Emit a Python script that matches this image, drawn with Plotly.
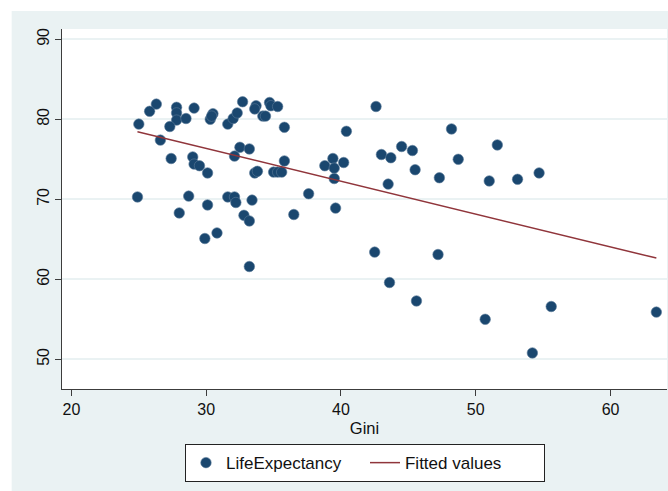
import numpy as np
import plotly.graph_objects as go

# Income inequality (Gini index) and life expectancy, one entry per country
gini = [
    26.3, 25.8, 25.0, 27.8, 27.8, 27.8, 28.5, 27.3, 29.1, 26.6,
    30.5, 30.3, 30.4, 31.6, 32.0, 32.3, 32.7, 33.7, 33.6, 34.2,
    34.4, 34.7, 34.8, 35.3, 35.8, 40.4, 32.5, 33.2, 32.1, 27.4,
    29.0, 29.1, 29.5, 30.1, 33.6, 33.8, 35.0, 35.3, 35.6, 35.8,
    38.8, 39.4, 39.5, 40.2, 39.5, 24.9, 28.7, 28.0, 30.1, 31.6,
    32.1, 32.2, 33.4, 37.6, 39.6, 36.5, 32.8, 33.2, 30.8, 29.9,
    33.2, 42.6, 48.2, 51.6, 44.5, 45.3, 43.0, 43.7, 48.7, 45.5,
    43.5, 47.3, 51.0, 53.1, 54.7, 42.5, 47.2, 43.6, 45.6, 50.7,
    55.6, 54.2, 63.4,
]
life_expectancy = [
    81.9, 81.0, 79.4, 81.5, 80.8, 79.9, 80.1, 79.1, 81.4, 77.4,
    80.7, 80.0, 80.4, 79.4, 80.1, 80.8, 82.2, 81.7, 81.3, 80.4,
    80.4, 82.1, 81.7, 81.6, 79.0, 78.5, 76.5, 76.3, 75.4, 75.1,
    75.3, 74.4, 74.2, 73.3, 73.3, 73.5, 73.4, 73.4, 73.4, 74.8,
    74.2, 75.1, 73.9, 74.6, 72.6, 70.3, 70.4, 68.3, 69.3, 70.3,
    70.3, 69.6, 69.9, 70.7, 68.9, 68.1, 68.0, 67.3, 65.8, 65.1,
    61.6, 81.6, 78.8, 76.8, 76.6, 76.1, 75.6, 75.2, 75.0, 73.7,
    71.9, 72.7, 72.3, 72.5, 73.3, 63.4, 63.1, 59.6, 57.3, 55.0,
    56.6, 50.8, 55.9,
]

x_ticks = [20, 30, 40, 50, 60]
y_ticks = [50, 60, 70, 80, 90]

# Ordinary least squares line over the observed Gini range
slope, intercept = np.polyfit(gini, life_expectancy, 1)
fit_x = np.array([min(gini), max(gini)])
fit_y = intercept + slope * fit_x

NAVY = "#1A476F"
MAROON = "#90353B"
REGION = "#EAF2F3"
AXIS = "#3C3C3C"
FONT = "Liberation Sans, Arial, Helvetica, sans-serif"

fig = go.Figure()
fig.add_trace(go.Scatter(
    x=gini, y=life_expectancy, mode="markers", name="LifeExpectancy",
    marker=dict(color=NAVY, size=10.5, line=dict(width=0.6, color="#5a7a98")),
))
fig.add_trace(go.Scatter(
    x=fit_x, y=fit_y, mode="lines", name="Fitted values",
    line=dict(color=MAROON, width=1.5),
))

# Light graph region around the white plot region; white strips at top/left edge
fig.add_shape(type="rect", xref="paper", yref="paper",
              x0=-0.2, x1=1.1, y0=1.05, y1=1.2,
              fillcolor="white", line_width=0, layer="below")
fig.add_shape(type="rect", xref="paper", yref="paper",
              x0=-0.2, x1=-0.0832, y0=-0.4, y1=1.2,
              fillcolor="white", line_width=0, layer="below")

fig.update_layout(
    width=668, height=491,
    margin=dict(l=62.3, r=1.3, t=29, b=102),
    paper_bgcolor=REGION,
    plot_bgcolor="white",
    font=dict(family=FONT, color="#111111", size=16),
    showlegend=True,
    legend=dict(
        orientation="h", x=0.5008, xanchor="center", y=-0.153, yanchor="top",
        bgcolor="white", bordercolor="#222222", borderwidth=1,
        font=dict(size=17, family=FONT, color="#111111"),
        entrywidth=134, entrywidthmode="pixels",
    ),
    xaxis=dict(
        range=[19.30, 64.19], tickvals=x_ticks, ticktext=[str(v) for v in x_ticks],
        showgrid=False, zeroline=False,
        showline=True, linecolor=AXIS, linewidth=1.2,
        ticks="outside", ticklen=6, tickcolor=AXIS, tickwidth=1.2,
        tickfont=dict(size=16),
        title=dict(text="Gini", font=dict(size=16.5), standoff=5),
    ),
    yaxis=dict(
        range=[46.29, 91.29], tickvals=y_ticks, ticktext=[str(v) for v in y_ticks],
        tickangle=-90,
        showgrid=True, gridcolor=REGION, gridwidth=1.6, zeroline=False,
        showline=True, linecolor=AXIS, linewidth=1.2,
        ticks="outside", ticklen=6, tickcolor=AXIS, tickwidth=1.2,
        tickfont=dict(size=16),
    ),
)

fig.write_html("out.html")
